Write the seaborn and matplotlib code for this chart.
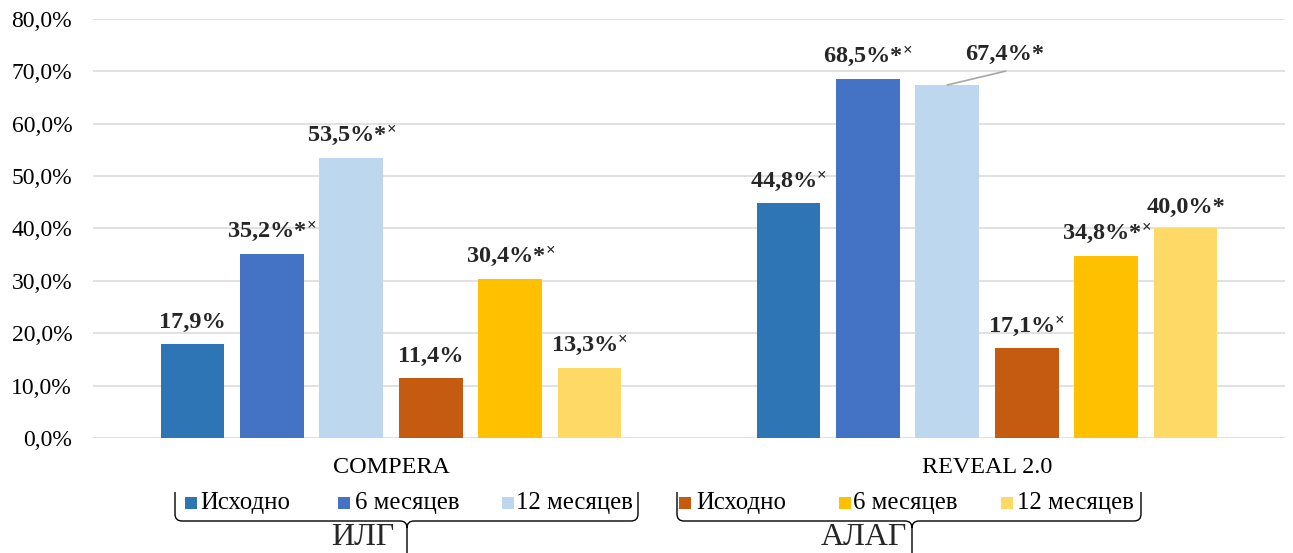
import numpy as np
import pandas as pd
import matplotlib
matplotlib.use("Agg")
import matplotlib.pyplot as plt
from matplotlib.patches import Rectangle, PathPatch
from matplotlib.path import Path
import seaborn as sns

# ---- data -------------------------------------------------------------
categories = ["COMPERA", "REVEAL 2.0"]
groups = ["ИЛГ", "АЛАГ"]
periods = ["Исходно", "6 месяцев", "12 месяцев"]

ilg_baseline = [17.9, 44.8]
ilg_6m = [35.2, 68.5]
ilg_12m = [53.5, 67.4]
alag_baseline = [11.4, 17.1]
alag_6m = [30.4, 34.8]
alag_12m = [13.3, 40.0]

# significance marks: "*" and superscript "×"
ilg_baseline_marks = ["", "×"]
ilg_6m_marks = ["*×", "*×"]
ilg_12m_marks = ["*×", "*"]
alag_baseline_marks = ["", "×"]
alag_6m_marks = ["*×", "*×"]
alag_12m_marks = ["×", "*"]

yticks = [0, 10, 20, 30, 40, 50, 60, 70, 80]

colors = ["#2E75B6", "#4472C4", "#BDD7EE", "#C55A11", "#FFC000", "#FFD966"]

series_values = [ilg_baseline, ilg_6m, ilg_12m, alag_baseline, alag_6m, alag_12m]
series_marks = [ilg_baseline_marks, ilg_6m_marks, ilg_12m_marks,
                alag_baseline_marks, alag_6m_marks, alag_12m_marks]
series_keys = [f"{g} · {p}" for g in groups for p in periods]

rows = []
for key, vals in zip(series_keys, series_values):
    for cat, v in zip(categories, vals):
        rows.append({"category": cat, "series": key, "value": v})
df = pd.DataFrame(rows)

# ---- figure -----------------------------------------------------------
W, H = 1293, 553
sns.set_theme(style="white")
plt.rcParams["font.family"] = ["Liberation Serif", "DejaVu Serif"]
# superscript marks drawn from the bold serif face
plt.rcParams["mathtext.fontset"] = "custom"
plt.rcParams["mathtext.rm"] = "Liberation Serif:bold"
plt.rcParams["mathtext.it"] = "Liberation Serif:bold"
plt.rcParams["mathtext.bf"] = "Liberation Serif:bold"

fig = plt.figure(figsize=(W / 100, H / 100), dpi=100)
ax = fig.add_axes([93 / W, 1 - 438 / H, (1285 - 93) / W, (438 - 19) / H])


def fx(px):
    return px / W


def fy(py):
    return 1 - py / H


sns.barplot(data=df, x="category", y="value", hue="series",
            hue_order=series_keys, order=categories, palette=colors,
            width=0.8, gap=0.2, saturation=1, legend=False, ax=ax,
            edgecolor="none", linewidth=0)

ax.set_xlim(-0.5, 1.5)
ax.set_ylim(0, 80)
ax.set_yticks(yticks)
ax.set_yticklabels([f"{t:.1f}".replace(".", ",") + "%" for t in yticks])
ax.yaxis.grid(True, color="#D9D9D9", linewidth=1.1)
ax.set_axisbelow(True)
for s in ["top", "right", "left", "bottom"]:
    ax.spines[s].set_visible(False)
ax.tick_params(axis="y", length=0, pad=15, labelsize=17, colors="black")
ax.tick_params(axis="x", length=0, pad=14, labelsize=17.4, colors="black")
ax.set_xlabel("")
ax.set_ylabel("")


def label_text(v, marks):
    s = f"{v:.1f}".replace(".", ",") + "%"
    if "*" in marks:
        s += "*"
    if "×" in marks:
        s += "$^{×}$"
    return s


# ---- value labels -----------------------------------------------------
LABEL_SIZE = 17.5
for container, vals, marks in zip(ax.containers, series_values, series_marks):
    for bar, v, m in zip(container, vals, marks):
        cx = bar.get_x() + bar.get_width() / 2
        txt = label_text(v, m)
        if abs(v - 67.4) < 1e-9 and m == "*":
            # label moved aside with a leader line
            ax.annotate("", xy=(cx, v), xytext=(42, 10), textcoords="offset points",
                        arrowprops=dict(arrowstyle="-", color="#A6A6A6", lw=1.2,
                                        shrinkA=0, shrinkB=0))
            ax.annotate(txt, xy=(cx, v), xytext=(41, 18), textcoords="offset points",
                        ha="center", va="baseline", fontsize=LABEL_SIZE,
                        fontweight="bold")
        else:
            ax.annotate(txt, xy=(cx, v), xytext=(0, 11.5), textcoords="offset points",
                        ha="center", va="baseline", fontsize=LABEL_SIZE,
                        fontweight="bold")

# ---- grouped legend with braces ---------------------------------------
legend_rows = [
    [(185, 200), (338, 355), (502, 516)],
    [(679, 696), (839, 853), (1001, 1017)],
]
leg_y = 503
sq = 12
for gi, row in enumerate(legend_rows):
    for pi, (sx, tx) in enumerate(row):
        c = colors[gi * 3 + pi]
        fig.patches.append(Rectangle((fx(sx), fy(leg_y + sq / 2)), sq / W, sq / H,
                                     transform=fig.transFigure, facecolor=c,
                                     edgecolor="none"))
        fig.text(fx(tx), fy(leg_y), periods[pi], ha="left", va="center",
                 fontsize=17.8, color="black")


def brace(x0, x1, xm, ytop, yline, ybot, r=7):
    pts = [
        (x0, ytop), (x0, yline - r), (x0, yline), (x0 + r, yline),
        (xm - r, yline), (xm, yline), (xm, yline + r), (xm, ybot),
        (x1, ytop), (x1, yline - r), (x1, yline), (x1 - r, yline),
        (xm + r, yline), (xm, yline), (xm, yline + r),
    ]
    codes = [Path.MOVETO, Path.LINETO, Path.CURVE3, Path.CURVE3,
             Path.LINETO, Path.CURVE3, Path.CURVE3, Path.LINETO,
             Path.MOVETO, Path.LINETO, Path.CURVE3, Path.CURVE3,
             Path.LINETO, Path.CURVE3, Path.CURVE3]
    verts = [(fx(x), fy(y)) for x, y in pts]
    fig.patches.append(PathPatch(Path(verts, codes), transform=fig.transFigure,
                                 facecolor="none", edgecolor="black", lw=1.0))


brace(175, 638, 407, 492, 521, 553)
brace(677, 1141, 912, 492, 521, 553)
fig.text(fx(363), fy(552), groups[0], ha="center", va="bottom", fontsize=23)
fig.text(fx(864), fy(552), groups[1], ha="center", va="bottom", fontsize=23)

fig.savefig("out.png", dpi=100)
